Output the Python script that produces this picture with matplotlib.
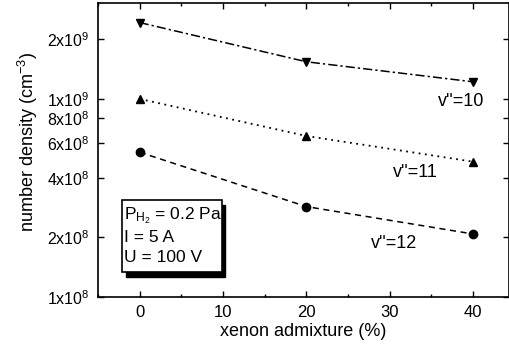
import matplotlib
matplotlib.use('Agg')
import matplotlib.pyplot as plt
from matplotlib.patches import Rectangle
from matplotlib.ticker import FixedLocator, MultipleLocator, NullFormatter, NullLocator

plt.rcParams['font.family'] = ['Liberation Sans', 'DejaVu Sans']
plt.rcParams['mathtext.fontset'] = 'custom'
plt.rcParams['mathtext.rm'] = 'Liberation Sans'
plt.rcParams['mathtext.it'] = 'Liberation Sans:italic'

# xenon admixture (%) and number densities (cm^-3) for each vibrational level
xenon = [0, 20, 40]
n_v10 = [2.43e9, 1.54e9, 1.22e9]
n_v11 = [1.0e9, 6.5e8, 4.82e8]
n_v12 = [5.38e8, 2.86e8, 2.08e8]

ytick_vals = [1e8, 2e8, 4e8, 6e8, 8e8, 1e9, 2e9]
ytick_labels = ['1x10$^8$', '2x10$^8$', '4x10$^8$', '6x10$^8$', '8x10$^8$', '1x10$^9$', '2x10$^9$']

fig = plt.figure(figsize=(5.10, 3.53), dpi=100)
ax = fig.add_axes([98/510, 1 - 297/353, (509 - 98)/510, (297 - 3)/353])

ax.plot(xenon, n_v10, color='k', linestyle=(0, (6, 2, 1.5, 2)), lw=1.1,
        marker='v', markersize=6)
ax.plot(xenon, n_v11, color='k', linestyle=(0, (1, 2.5)), lw=1.3,
        marker='^', markersize=6)
ax.plot(xenon, n_v12, color='k', linestyle=(0, (4, 3)), lw=1.1,
        marker='o', markersize=6)

ax.set_yscale('log')
ax.set_ylim(1e8, 3.05e9)
ax.set_xlim(-5, 44.3)

ax.yaxis.set_major_locator(FixedLocator(ytick_vals))
ax.set_yticklabels(ytick_labels)
ax.yaxis.set_minor_locator(NullLocator())
ax.yaxis.set_minor_formatter(NullFormatter())
ax.xaxis.set_major_locator(MultipleLocator(10))
ax.xaxis.set_minor_locator(MultipleLocator(5))

ax.tick_params(which='both', direction='in', top=True, right=True, width=1)
ax.tick_params(axis='y', labelsize=11.5)
ax.tick_params(axis='x', labelsize=12)
ax.tick_params(which='major', length=4, pad=6)
ax.tick_params(which='minor', length=2.5)
for s in ax.spines.values():
    s.set_linewidth(1.2)

ax.set_xlabel('xenon admixture (%)', fontsize=13, labelpad=2)
ax.set_ylabel('number density (cm$^{-3}$)', fontsize=13)
ax.yaxis.set_label_coords(-0.142, 0.527)

ax.text(38.6, 0.966e9, "v''=10", fontsize=13, ha='center', va='center')
ax.text(33.1, 4.23e8, "v''=11", fontsize=13, ha='center', va='center')
ax.text(30.5, 1.87e8, "v''=12", fontsize=13, ha='center', va='center')

# parameter box with drop shadow
trans = fig.transFigure
bx0, by0, bw, bh = 122/510, 1 - 272/353, 100/510, 72/353
fig.patches.append(Rectangle((bx0 + 3.5/510, by0 - 5/353), bw, bh, transform=trans,
                             facecolor='k', edgecolor='k', zorder=5))
fig.patches.append(Rectangle((bx0, by0), bw, bh, transform=trans,
                             facecolor='white', edgecolor='k', lw=1.2, zorder=6))
fig.text(124/510, 1 - 216/353, 'P$_{\\mathrm{H_2}}$ = 0.2 Pa', fontsize=12.5,
         va='center', zorder=7)
fig.text(124/510, 1 - 238/353, 'I = 5 A', fontsize=12.5, va='center', zorder=7)
fig.text(124/510, 1 - 258/353, 'U = 100 V', fontsize=12.5, va='center', zorder=7)

fig.savefig('out.png', dpi=100)
